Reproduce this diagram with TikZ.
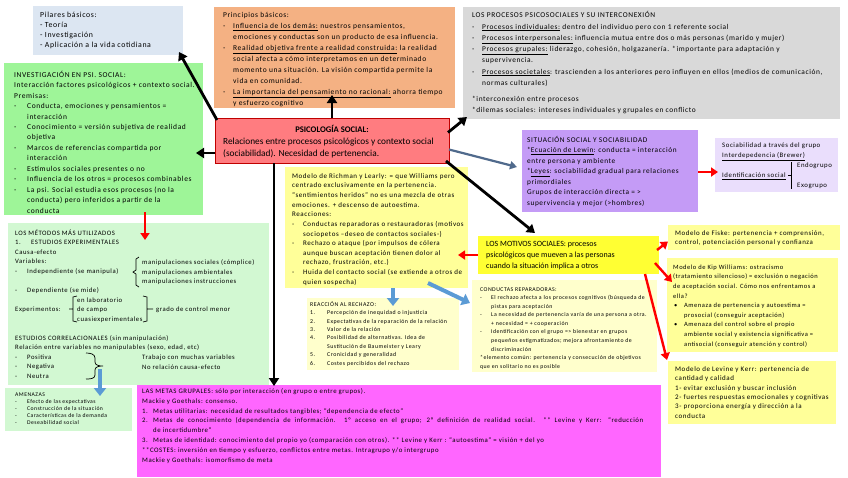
\documentclass[tikz,border=0pt]{standalone}
\usepackage{fontspec}
\setmainfont{Carlito}[LetterSpace=8]
\usetikzlibrary{arrows.meta,calc}
\definecolor{cPil}{RGB}{220,230,242}
\definecolor{cPri}{RGB}{244,177,131}
\definecolor{cPro}{RGB}{217,217,217}
\definecolor{cInv}{RGB}{158,245,152}
\definecolor{cPink}{RGB}{255,124,128}
\definecolor{cPinkB}{RGB}{192,0,0}
\definecolor{cYel}{RGB}{255,255,153}
\definecolor{cSit}{RGB}{196,155,246}
\definecolor{cSoc}{RGB}{234,222,252}
\definecolor{cMtd}{RGB}{210,248,210}
\definecolor{cMot}{RGB}{255,255,51}
\definecolor{cCrm}{RGB}{255,255,204}
\definecolor{cMag}{RGB}{255,102,255}
\definecolor{cBlue}{RGB}{91,155,213}
\definecolor{cSlate}{RGB}{80,106,140}
\newcommand{\fs}[2]{\fontsize{#1}{#2}\selectfont}
\newcommand{\bd}[1]{\makebox[#1][l]{-}}
\newcommand{\bn}[2]{\makebox[#1][l]{#2}}
\newcommand{\hi}[1]{\hspace*{#1}}
\newcommand{\un}[1]{\underline{#1}}
\newcommand{\st}{\rule{0pt}{1em}}
\tikzset{
  bx/.style={rectangle, inner sep=0pt, outer sep=0pt, anchor=north west},
  tx/.style={anchor=north west, align=left, inner sep=0pt},
  txb/.style={anchor=base west, inner sep=0pt},
  ab/.style={line width=2.8pt, -{Triangle[length=8pt,width=10pt]}},
  ar/.style={draw=red, line width=2.4pt, -{Triangle[length=7pt,width=9pt]}},
  abl/.style={draw=cBlue, line width=4pt, -{Triangle[length=8pt,width=12pt]}},
  asl/.style={draw=cSlate, line width=2.2pt, -{Triangle[length=7pt,width=8pt]}},
  brk/.style={line width=0.7pt}
}
\begin{document}
\begin{tikzpicture}[x=1pt,y=-1pt]
\useasboundingbox (0,0) rectangle (848,477);
\fill[white] (0,0) rectangle (848,477);
% boxes
\node[bx, fill=cPil, minimum width=150pt, minimum height=49pt] (pil) at (33,6) {};
\node[bx, fill=cPri, minimum width=241pt, minimum height=101pt] (pri) at (214,7) {};
\node[bx, fill=cPro, minimum width=377pt, minimum height=112pt] (pro) at (463,7) {};
\node[bx, fill=cInv, minimum width=199pt, minimum height=152pt] (inv) at (4,63) {};
\node[bx, fill=cPink, draw=cPinkB, line width=1pt, minimum width=234pt, minimum height=45pt] (pink) at (215,118) {};
\node[bx, fill=cYel, minimum width=183pt, minimum height=121pt] (rich) at (285,167) {};
\node[bx, fill=cSit, minimum width=176pt, minimum height=82pt] (sit) at (522,130) {};
\node[bx, fill=cSoc, minimum width=123pt, minimum height=54pt] (soc) at (715,138) {};
\node[bx, fill=cMtd, minimum width=261pt, minimum height=162pt] (mtd) at (8,223) {};
\node[bx, fill=cMot, minimum width=181pt, minimum height=38pt] (mot) at (478,236) {};
\node[bx, fill=cCrm, minimum width=185pt, minimum height=92pt] (cond) at (472,280) {};
\node[bx, fill=cCrm, minimum width=152pt, minimum height=72pt] (reac) at (307,298) {};
\node[bx, fill=cYel, minimum width=172pt, minimum height=25pt] (fis) at (668,225) {};
\node[bx, fill=cYel, minimum width=171pt, minimum height=94pt] (kip) at (667,258) {};
\node[bx, fill=cYel, minimum width=168pt, minimum height=63pt] (lev) at (668,361) {};
\node[bx, fill=cMtd, minimum width=127pt, minimum height=43pt] (amen) at (5,388) {};
\node[bx, fill=cMag, minimum width=524pt, minimum height=92pt] (metas) at (137,385) {};
% texts
\node[tx, font=\fs{7.8}{10.2}] (tpil) at (40,9.2) {\st Pilares básicos:\\- Teoría\\- Investigación\\- Aplicación a la vida cotidiana};
\node[tx, font=\fs{7.5}{11}] (tpri) at (223,10) {\st Principios básicos:\\
\bd{10pt}\un{Influencia de los demás:} nuestros pensamientos,\\
\hi{10pt}emociones y conductas son un producto de esa influencia.\\
\bd{10pt}\un{Realidad objetiva frente a realidad construida:} la realidad\\
\hi{10pt}social afecta a cómo interpretamos en un determinado\\
\hi{10pt}momento una situación. La visión compartida permite la\\
\hi{10pt}vida en comunidad.\\
\bd{10pt}\un{La importancia del pensamiento no racional:} ahorra tiempo\\
\hi{10pt}y esfuerzo cognitivo};
\node[tx, font=\fs{7.4}{11.3}] (tpro) at (472,10.1) {\st LOS PROCESOS PSICOSOCIALES Y SU INTERCONEXIÓN\\
\bd{10pt}\un{Procesos individuales:} dentro del individuo pero con 1 referente social\\
\bd{10pt}\un{Procesos interpersonales:} influencia mutua entre dos o más personas (marido y mujer)\\
\bd{10pt}\un{Procesos grupales:} liderazgo, cohesión, holgazanería. *importante para adaptación y\\
\hi{10pt}supervivencia.\\
\bd{10pt}\un{Procesos societales}: trascienden a los anteriores pero influyen en ellos (medios de comunicación,\\
\hi{10pt}normas culturales)};
\node[tx, font=\fs{7.4}{11}] (tpro2) at (472,94.1) {\st *interconexión entre procesos\\*dilemas sociales: intereses individuales y grupales en conflicto};
\node[tx, font=\fs{7.5}{10.45}] (tinv) at (14,69.5) {\st INVESTIGACIÓN EN PSI. SOCIAL:\\
Interacción factores psicológicos + contexto social.\\
Premisas:\\
\bd{13pt}Conducta, emociones y pensamientos =\\
\hi{13pt}interacción\\
\bd{13pt}Conocimiento = versión subjetiva de realidad\\
\hi{13pt}objetiva\\
\bd{13pt}Marcos de referencias compartida por\\
\hi{13pt}interacción\\
\bd{13pt}Estímulos sociales presentes o no\\
\bd{13pt}Influencia de los otros = procesos combinables\\
\bd{13pt}La psi. Social estudia esos procesos (no la\\
\hi{13pt}conducta) pero inferidos a partir de la\\
\hi{13pt}conducta};
\node[anchor=base, inner sep=0pt, font=\fs{8.6}{11}\bfseries\addfontfeature{LetterSpace=0}] (tpink1) at (332,132) {PSICOLOGÍA SOCIAL:};
\node[tx, font=\fs{9.3}{11.3}\addfontfeature{LetterSpace=0}] (tpink2) at (223,135.2) {\st Relaciones entre procesos psicológicos y contexto social\\(sociabilidad). Necesidad de pertenencia.};
\node[tx, font=\fs{7}{9.64}] (trich) at (292,171) {\st Modelo de Richman y Learly: = que Williams pero\\
centrado exclusivamente en la pertenencia.\\
“sentimientos heridos” no es una mezcla de otras\\
emociones. + descenso de autoestima.\\
Reacciones:\\
\bd{11pt}Conductas reparadoras o restauradoras (motivos\\
\hi{11pt}sociopetos –deseo de contactos sociales-)\\
\bd{11pt}Rechazo o ataque (por impulsos de cólera\\
\hi{11pt}aunque buscan aceptación tienen dolor al\\
\hi{11pt}rechazo, frustración, etc.)\\
\bd{11pt}Huida del contacto social (se extiende a otros de\\
\hi{11pt}quien sospecha)};
\node[tx, font=\fs{7.3}{10.5}] (tsit) at (527,134.7) {\st SITUACIÓN SOCIAL Y SOCIABILIDAD\\
*\un{Ecuación de Lewin}: conducta = interacción\\
entre persona y ambiente\\
*\un{Leyes}: sociabilidad gradual para relaciones\\
primordiales\\
Grupos de interacción directa = >\\
supervivencia y mejor (>hombres)};
\node[tx, font=\fs{6.8}{10}] (tsoc1) at (722,140.9) {\st Sociabilidad a través del grupo\\\un{Interdepedencia (Brewer)}};
\node[txb, font=\fs{6.8}{10}] (tsoc2) at (722,177.5) {\un{Identificación social}};
\node[txb, font=\fs{6.8}{10}] (tsoc3) at (797,167) {Endogrupo};
\node[txb, font=\fs{6.8}{10}] (tsoc4) at (797,187.5) {Exogrupo};
\draw[line width=1pt] (791,162) -- (791,189) (788,175) -- (791,175);
% metodos
\node[tx, font=\fs{6.7}{9.53}] (tmtd) at (15,228.3) {\st LOS MÉTODOS MÁS UTILIZADOS\\
\bn{16pt}{1.}ESTUDIOS EXPERIMENTALES\\
Causa-efecto\\
Variables:\\
\bd{12pt}Independiente (se manipula)\\
\mbox{}\\
\bd{12pt}Dependiente (se mide)\\
\mbox{}\\
Experimentos:\\
\mbox{}\\
\mbox{}\\
ESTUDIOS CORRELACIONALES (sin manipulación)\\
Relación entre variables no manipulables (sexo, edad, etc)\\
\bd{12pt}Positiva\\
\bd{12pt}Negativa\\
\bd{12pt}Neutra};
\node[tx, font=\fs{6.7}{9.53}] (tmtd2) at (142,257.8) {\st manipulaciones sociales (cómplice)\\manipulaciones ambientales\\manipulaciones instrucciones};
\node[tx, font=\fs{6.7}{9.53}] (tmtd3) at (77,295.3) {\st en laboratorio\\de campo\\cuasiexperimentales};
\node[txb, font=\fs{6.7}{9.53}] (tmtd4) at (156,311.5) {grado de control menor};
\node[tx, font=\fs{6.7}{9.53}] (tmtd5) at (142,352.8) {\st Trabajo con muchas variables\\No relación causa-efecto};
\draw[brk] (139,257) -- (136,259) -- (136,270) -- (133,272) -- (136,274) -- (136,285) -- (139,287);
\draw[brk] (77,296) -- (73,297) -- (73,321) -- (77,322) (73,309) -- (69,309);
\draw[brk] (143,296) -- (147,297) -- (147,321) -- (143,322) (147,309) -- (153,309);
\draw[brk] (86,353) to[out=0,in=90] (95,358) -- (95,362) to[out=270,in=180] (103,366) to[out=180,in=90] (95,370) -- (95,375) to[out=270,in=0] (86,379);
% motivos etc
\node[tx, font=\fs{8}{10.8}\addfontfeature{LetterSpace=0}] (tmot) at (486,238.5) {\st LOS MOTIVOS SOCIALES: procesos\\psicológicos que mueven a las personas\\cuando la situación implica a otros};
\node[tx, font=\fs{5.8}{8.55}] (tcond) at (480,285.2) {\st CONDUCTAS REPARADORAS:\\
\bd{11pt}El rechazo afecta a los procesos cognitivos (búsqueda de\\
\hi{11pt}pistas para aceptación\\
\bd{11pt}La necesidad de pertenencia varía de una persona a otra.\\
\hi{11pt}+ necesidad = + cooperación\\
\bd{11pt}Identificación con el grupo => bienestar en grupos\\
\hi{11pt}pequeños estigmatizados; mejora afrontamiento de\\
\hi{11pt}discriminación\\
*elemento común: pertenencia y consecución de objetivos\\
que en solitario no es posible};
\node[tx, font=\fs{5.9}{8.43}] (treac) at (310,300.1) {\st REACCIÓN AL RECHAZO:\\
\bn{17pt}{1.}Percepción de inequidad o injusticia\\
\bn{17pt}{2.}Expectativas de la reparación de la relación\\
\bn{17pt}{3.}Valor de la relación\\
\bn{17pt}{4.}Posibilidad de alternativas. Idea de\\
\hi{17pt}Sustitución de Baumeister y Leary\\
\bn{17pt}{5.}Cronicidad y generalidad\\
\bn{17pt}{6.}Costes percibidos del rechazo};
\node[tx, font=\fs{6.9}{9.5}] (tfis) at (675,228.1) {\st Modelo de Fiske: pertenencia + comprensión,\\control, potenciación personal y confianza};
\node[tx, font=\fs{6.5}{9.6}] (tkip) at (673,262.5) {\st Modelo de Kip Williams: ostracismo\\
(tratamiento silencioso) = exclusión o negación\\
de aceptación social. Cómo nos enfrentamos a\\
ella?\\
\bn{11pt}{\hspace{1pt}•}Amenaza de pertenencia y autoestima =\\
\hi{11pt}prosocial (conseguir aceptación)\\
\bn{11pt}{\hspace{1pt}•}Amenaza del control sobre el propio\\
\hi{11pt}ambiente social y existencia significativa =\\
\hi{11pt}antisocial (conseguir atención y control)};
\node[tx, font=\fs{7}{9.4}] (tlev) at (675,364) {\st Modelo de Levine y Kerr: pertenencia de\\
cantidad y calidad\\
1- evitar exclusión y buscar inclusión\\
2- fuertes respuestas emocionales y cognitivas\\
3- proporciona energía y dirección a la\\
conducta};
\node[tx, font=\fs{5.7}{7}] (tamen) at (15,390.3) {\st AMENAZAS\\
\bd{12pt}Efecto de las expectativas\\
\bd{12pt}Construcción de la situación\\
\bd{12pt}Características de la demanda\\
\bd{12pt}Deseabilidad social};
\node[tx, font=\fs{6.8}{9.9}] (tmetas) at (142,386.2) {\st LAS METAS GRUPALES: sólo por interacción (en grupo o entre grupos).\\
Mackie y Goethals: consenso.\\
\bn{11pt}{1.}Metas utilitarias: necesidad de resultados tangibles; “dependencia de efecto”\\
\bn{11pt}{2.}\makebox[490pt][s]{Metas de conocimiento (dependencia de información. 1º acceso en el grupo; 2º definición de realidad social. ** Levine y Kerr: “reducción}\\
\hi{11pt}de incertidumbre”\\
\bn{11pt}{3.}Metas de identidad: conocimiento del propio yo (comparación con otros). ** Levine y Kerr : “autoestima” = visión + del yo\\
**COSTES: inversión en tiempo y esfuerzo, conflictos entre metas. Intragrupo y/o intergrupo\\
Mackie y Goethals: isomorfismo de meta};
% arrows
\draw[ab] ($(pink.north west)+(2,2)$) -- ($(pil.south east)+(-4,-3)$);
\draw[ab] (pink.north) -- ($(pink.north)+(0,-23)$);
\draw[ab] ($(pink.west)+(0,12.5)$) -- ($(pink.west)+(-19,12.5)$);
\draw[ab] ($(pink.east)+(-1,-8)$) -- ($(pro.south west)+(4,-2)$);
\draw[ab] ($(pink.south east)+(-3,-2)$) -- ($(mot.north west)+(57,-3)$);
\draw[asl] ($(pink.east)+(0,9)$) -- ($(sit.west)+(-5,-4)$);
\draw[ab] ($(pink.south west)+(59,0)$) -- ($(metas.north west)+(137,1)$);
\draw[ar] ($(inv.south west)+(141,-3)$) -- ($(mtd.north west)+(137,17)$);
\draw[abl] ($(mtd.south west)+(92,-16)$) -- ($(amen.north west)+(95,8)$);
\draw[abl] ($(rich.south west)+(108,0)$) -- ($(reac.north west)+(86,8)$);
\draw[abl] ($(rich.south east)+(-40,-5)$) -- ($(cond.north west)+(-2,23)$);
\draw[ar] (mot.west) -- ($(rich.east)+(-10,27.5)$);
\draw[ar] ($(mot.north east)+(-2,14)$) -- ($(fis.west)+(0,4)$);
\draw[ar] ($(mot.east)+(-4,8)$) -- ($(kip.north west)+(5,24)$);
\draw[ar] ($(mot.south east)+(-14,0)$) -- ($(lev.north west)+(-1,-1)$);
\draw[ar] ($(sit.east)+(0,1)$) -- ($(soc.west)+(3,7)$);
\end{tikzpicture}
\end{document}
